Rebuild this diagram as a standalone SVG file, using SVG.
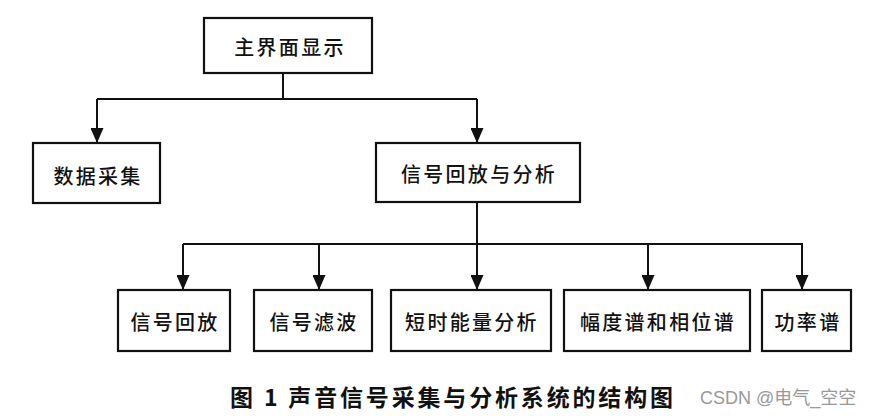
<svg xmlns="http://www.w3.org/2000/svg" width="873" height="416" viewBox="0 0 873 416">
<style>
.box{fill:#fff;stroke:#111;stroke-width:2.2}
.t{font-family:"Noto Sans CJK SC","Noto Sans CJK JP",sans-serif;font-size:20px;font-weight:500;fill:#111;text-anchor:middle;dominant-baseline:central;letter-spacing:2.3px}
.c{stroke:#111;stroke-width:2;fill:none}
.cap{font-family:"Noto Sans CJK SC",sans-serif;font-size:23px;font-weight:bold;fill:#111}
.wm{font-family:"Liberation Sans","Noto Sans CJK SC",sans-serif;font-size:18px;fill:#999}
</style>
<defs>
<marker id="ah" viewBox="0 0 15 13" refX="15" refY="6.5" markerWidth="15" markerHeight="13" markerUnits="userSpaceOnUse" orient="auto">
<path d="M0,0 L15,6.5 L0,13 Z" fill="#111"/>
</marker>
</defs>
<rect width="873" height="416" fill="#fff"/>
<g id="connectors">
<path class="c" d="M283,73 V99 M97,99 H477"/>
<path class="c" d="M97,99 V143" marker-end="url(#ah)"/>
<path class="c" d="M477,99 V143" marker-end="url(#ah)"/>
<path class="c" d="M477,202 V244 M183,244 H803"/>
<path class="c" d="M183,244 V290" marker-end="url(#ah)"/>
<path class="c" d="M319,244 V290" marker-end="url(#ah)"/>
<path class="c" d="M477,244 V290" marker-end="url(#ah)"/>
<path class="c" d="M648,244 V290" marker-end="url(#ah)"/>
<path class="c" d="M802,244 V290" marker-end="url(#ah)"/>
</g>
<g id="main"><rect class="box" x="204" y="18" width="168" height="55"/><text class="t" x="290" y="46">主界面显示</text></g>
<g id="acq"><rect class="box" x="33" y="143" width="127" height="60"/><text class="t" x="98" y="175">数据采集</text></g>
<g id="playana"><rect class="box" x="376" y="143" width="204" height="59"/><text class="t" x="479" y="173">信号回放与分析</text></g>
<g id="play"><rect class="box" x="118" y="290" width="112" height="61"/><text class="t" x="175" y="321">信号回放</text></g>
<g id="filter"><rect class="box" x="254" y="290" width="118" height="61"/><text class="t" x="314" y="321">信号滤波</text></g>
<g id="energy"><rect class="box" x="391" y="290" width="160" height="61"/><text class="t" x="472" y="321">短时能量分析</text></g>
<g id="spectrum"><rect class="box" x="564" y="290" width="186" height="61"/><text class="t" x="658" y="321">幅度谱和相位谱</text></g>
<g id="power"><rect class="box" x="762" y="290" width="89" height="61"/><text class="t" x="808" y="321">功率谱</text></g>
<text class="cap" x="230" y="406" textLength="443" lengthAdjust="spacing">图 1 声音信号采集与分析系统的结构图</text>
<text class="wm" x="700" y="404">CSDN @电气_空空</text>
</svg>
